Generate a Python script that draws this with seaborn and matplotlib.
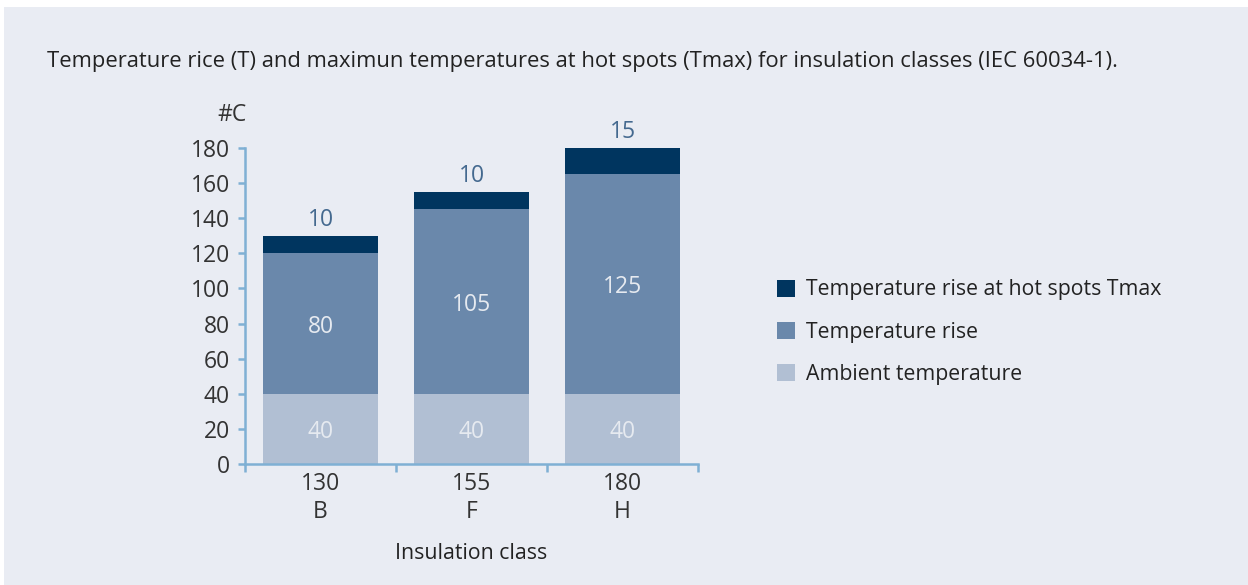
import matplotlib
matplotlib.use("Agg")
import matplotlib.pyplot as plt
from matplotlib.patches import Patch, Rectangle
import seaborn as sns
import pandas as pd

# Data
classes = ["130\nB", "155\nF", "180\nH"]
ambient = [40, 40, 40]
rise = [80, 105, 125]
hotspot = [10, 10, 15]
series_names = ["Temperature rise at hot spots Tmax", "Temperature rise", "Ambient temperature"]
title = ("Temperature rice (T) and maximun temperatures at hot spots (Tmax) "
         "for insulation classes (IEC 60034-1).")

c_dark = "#00355f"
c_mid = "#6a88ab"
c_light = "#b1bfd3"
c_axis = "#7fb0d4"
c_panel = "#e9ecf3"

sns.set_theme(style="white")
plt.rcParams["font.family"] = ["Open Sans", "DejaVu Sans"]

df = pd.DataFrame({
    "cls": classes,
    "ambient": ambient,
    "rise": rise,
    "hot": hotspot,
})
df["lvl2"] = df["ambient"] + df["rise"]
df["lvl3"] = df["lvl2"] + df["hot"]

fig = plt.figure(figsize=(12.48, 5.85), dpi=100, facecolor="white")
fig.patches.append(Rectangle((4 / 1248, 0), 1, 1 - 7 / 585, transform=fig.transFigure,
                             facecolor=c_panel, edgecolor="none", zorder=-10))

ax = fig.add_axes([245 / 1248, 1 - 464 / 585, 453 / 1248, 316 / 585])
ax.set_facecolor("none")

# Stacked bars: draw cumulative totals from the top segment down
bw = 0.755
for col, colr in (("lvl3", c_dark), ("lvl2", c_mid), ("ambient", c_light)):
    sns.barplot(data=df, x="cls", y=col, color=colr, width=bw, saturation=1,
                linewidth=0, edgecolor="none", ax=ax)

ax.set_xlim(-0.5, len(classes) - 0.5)
ax.set_ylim(0, 180)
ax.set_yticks(range(0, 181, 20))

# Spines
for s in ["top", "right"]:
    ax.spines[s].set_visible(False)
for s in ["left", "bottom"]:
    ax.spines[s].set_color(c_axis)
    ax.spines[s].set_linewidth(1.8)

ax.tick_params(axis="y", which="major", left=True, length=5, width=1.8, color=c_axis,
               labelsize=16.5, labelcolor="#333333", pad=6)
ax.set_xticks(range(len(classes)))
ax.set_xticklabels(classes)
ax.tick_params(axis="x", which="major", bottom=False, length=0, labelsize=16.5,
               labelcolor="#333333", pad=6)
ax.set_xticks([i - 0.5 for i in range(len(classes) + 1)], minor=True)
ax.tick_params(axis="x", which="minor", bottom=True, length=6, width=1.8, color=c_axis)
for lbl in ax.get_xticklabels():
    lbl.set_linespacing(1.2)

ax.set_xlabel("Insulation class", fontsize=15.3, color="#222222", labelpad=14)
ax.set_ylabel("")

# Value labels
for i in range(len(classes)):
    ax.text(i, ambient[i] / 2, f"{ambient[i]}", ha="center", va="center_baseline",
            fontsize=16.5, color="#e6eaf0")
    ax.text(i, ambient[i] + rise[i] / 2, f"{rise[i]}", ha="center",
            va="center_baseline", fontsize=16.5, color="#e6eaf0")
    ax.text(i, ambient[i] + rise[i] + hotspot[i] + 2, f"{hotspot[i]}", ha="center",
            va="bottom", fontsize=16.5, color="#44698f", clip_on=False)

# Unit label
ax.text(0.003, 1.065, "#C", transform=ax.transAxes, ha="right", va="bottom",
        fontsize=16.5, color="#333333")

fig.text(47 / 1248, 1 - 61 / 585, title, ha="left", va="center", fontsize=15.8,
         color="#222222")

handles = [Patch(facecolor=c, edgecolor="none") for c in (c_dark, c_mid, c_light)]
fig.legend(handles, series_names, loc="upper left",
           bbox_to_anchor=(768 / 1248, 1 - 271 / 585), frameon=False,
           fontsize=15.3, handlelength=0.85, handleheight=0.85, handletextpad=0.55,
           labelspacing=1.0, borderaxespad=0, labelcolor="#222222")

fig.savefig("out.png", dpi=100, facecolor="white")
